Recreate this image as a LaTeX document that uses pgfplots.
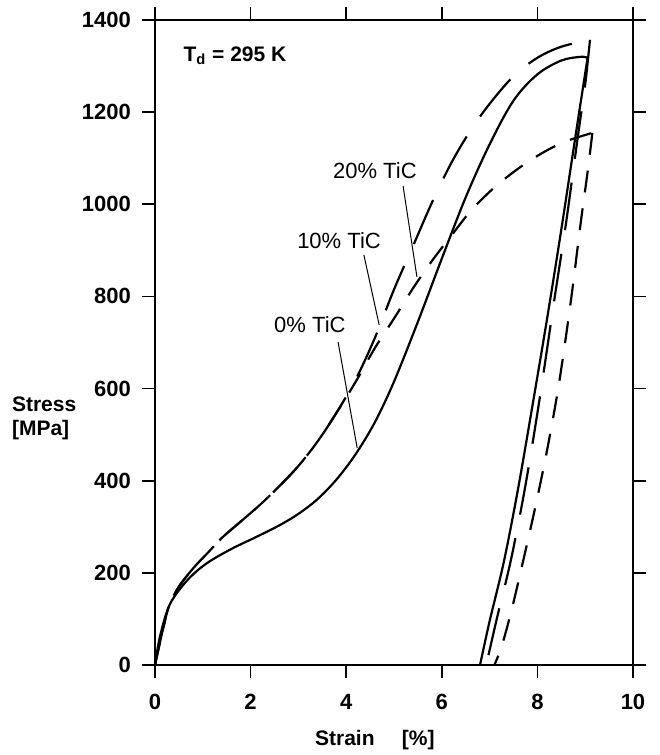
\documentclass[border=0pt]{standalone}
\usepackage{fontspec}
\setmainfont{Liberation Sans}
\usepackage{pgfplots}
\pgfplotsset{compat=1.18}

\begin{document}
\begin{tikzpicture}
\begin{axis}[
  scale only axis,
  width=239pt, height=322.5pt,
  xmin=0, xmax=10, ymin=0, ymax=1400,
  xtick={0,2,...,10}, ytick={0,200,...,1400},
  tick align=outside,
  major tick length=6.5pt,
  axis line style={line width=1pt},
  every tick/.style={black, line width=0.8pt},
  /pgf/number format/assume math mode=true,
  /pgf/number format/set thousands separator={},
  tick label style={font=\bfseries\fontsize{11}{12}\selectfont},
  xticklabel style={yshift=-4.5pt},
  yticklabel style={xshift=-2pt},
  xlabel={Strain\hspace{1.3em}[\%]},
  ylabel={Stress\\{[MPa]}},
  label style={font=\bfseries\fontsize{10.5}{12}\selectfont},
  xlabel style={at={(axis description cs:0.46,0)}, anchor=center, yshift=-37.5pt},
  ylabel style={at={(axis description cs:0,0.383)}, rotate=-90, anchor=west, align=left, xshift=-75pt},
  clip=false,
]
\coordinate (O) at (rel axis cs:0,0);

% 0% TiC, solid
\addplot[black, line width=1.1pt, smooth, tension=0.55] coordinates {
  (0,0) (0.1,60) (0.27,122) (0.45,155) (0.75,192) (1.1,222) (1.6,252)
  (2.1,277) (2.6,303) (3.0,328) (3.4,360) (3.8,403) (4.2,458)
  (4.6,527) (5.0,615) (5.5,745) (6.0,882) (6.5,1015) (7.0,1130)
  (7.5,1225) (8.0,1282) (8.5,1312) (8.9,1320) (9.05,1318)
};
\addplot[black, line width=1.1pt, smooth, tension=0.55] coordinates {
  (9.05,1318) (8.8,1150) (8.5,945) (8.2,750) (7.9,565) (7.6,385)
  (7.3,225) (7.0,95) (6.8,0)
};

% 10% TiC, long dashes
\addplot[black, line width=1.1pt, smooth, tension=0.55, dash pattern=on 24pt off 12pt] coordinates {
  (0,0) (0.15,70) (0.3,130) (0.5,170) (0.8,210) (1.1,243) (1.4,276)
  (1.8,312) (2.2,348) (2.6,388) (3.0,432) (3.4,485) (3.8,548) (4.2,620)
  (4.6,710) (5.0,815) (5.4,910) (5.8,1005) (6.2,1090) (6.6,1160)
  (7.0,1218) (7.5,1278) (8.0,1318) (8.5,1342) (9.1,1357)
};
\addplot[black, line width=1.1pt, smooth, tension=0.55, dash pattern=on 24pt off 12pt] coordinates {
  (9.1,1357) (9.0,1260) (8.85,1150) (8.6,960) (8.35,790) (8.05,580)
  (7.75,390) (7.45,230) (7.15,100) (6.93,0)
};

% 20% TiC, short dashes
\addplot[black, line width=1.1pt, smooth, tension=0.55, dash pattern=on 11pt off 8pt] coordinates {
  (0,0) (0.15,70) (0.3,130) (0.5,170) (0.8,210) (1.1,243) (1.4,276)
  (1.8,312) (2.2,348) (2.6,388) (3.0,432) (3.4,485) (3.8,548) (4.2,615)
  (4.6,688) (5.0,752) (5.4,818) (5.8,878) (6.2,932) (6.6,985) (7.0,1027)
  (7.4,1062) (7.8,1092) (8.2,1117) (8.6,1137) (9.15,1155)
};
\addplot[black, line width=1.1pt, smooth, tension=0.55, dash pattern=on 11pt off 8pt] coordinates {
  (9.15,1155) (9.05,1070) (8.9,955) (8.7,790) (8.45,610) (8.2,465)
  (7.95,340) (7.7,225) (7.45,115) (7.25,40) (7.1,0)
};

% labels and pointers
\node[font=\bfseries\fontsize{10.5}{12}\selectfont, anchor=west] at (axis cs:0.45,1322) {T\textsubscript{d} = 295 K};
\node[font=\fontsize{11}{13}\selectfont] at (axis cs:4.60,1074) {20\% TiC};
\node[font=\fontsize{11}{13}\selectfont] at (axis cs:3.85,922) {10\% TiC};
\node[font=\fontsize{11}{13}\selectfont] at (axis cs:3.24,738) {0\% TiC};
\draw[line width=0.5pt] (axis cs:5.19,1040) -- (axis cs:5.48,842);
\draw[line width=0.5pt] (axis cs:4.37,890) -- (axis cs:4.69,738);
\draw[line width=0.5pt] (axis cs:3.83,701) -- (axis cs:4.23,471);
\end{axis}
\pgfresetboundingbox
\path (O) ++(-77.5pt,-45pt) rectangle ++(329.5pt,377.5pt);
\end{tikzpicture}
\end{document}
